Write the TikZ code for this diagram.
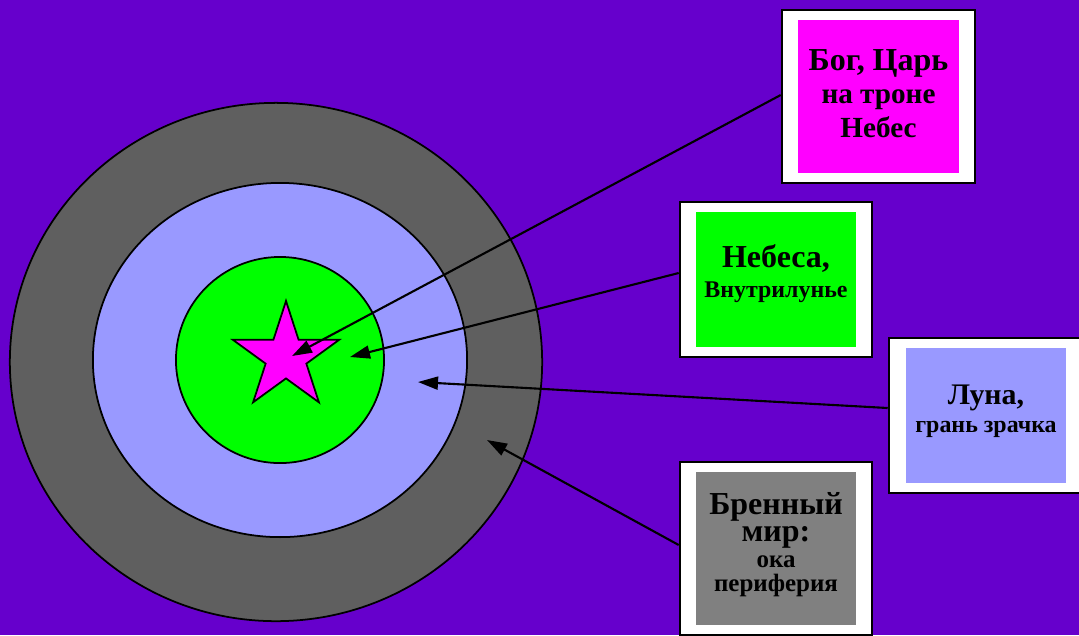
\documentclass[tikz,border=0pt]{standalone}
\usepackage{fontspec}
\setmainfont{Liberation Serif}
\usetikzlibrary{shapes.geometric,arrows.meta}

\definecolor{sfondo}{HTML}{6600CC}
\definecolor{anello}{HTML}{5F5F5F}
\definecolor{lunare}{HTML}{9999FF}
\definecolor{verde}{HTML}{00FF00}
\definecolor{fucsia}{HTML}{FF00FF}
\definecolor{grigio}{HTML}{808080}

\newcommand{\grande}[1]{{\fontsize{9.1}{9.6}\selectfont #1}}

\begin{document}
\begin{tikzpicture}[
        x=0.01cm, y=-0.01cm,
        cornice/.style={
            draw=black,
            fill=white,
            line width=0.7pt,
            inner sep=0pt,
            minimum width=1.93cm
        },
        riquadro/.style={
            inner sep=0pt,
            minimum width=1.6cm
        },
        testo/.style={
            inner sep=0pt,
            align=center
        },
        freccia/.style={
            line width=0.6pt,
            -{Triangle[length=2mm,width=1.3mm]}
        }
    ]
        % Sfondo viola, tagliato ai bordi dell'immagine
        \fill[sfondo] (0,0) rectangle (1079,635);
        \useasboundingbox (0,0) rectangle (1079,635);
        \clip (0,0) rectangle (1079,635);

        % Cerchi concentrici: mondo, luna, cielo
        \draw[fill=anello, line width=0.5pt] (276,362) ellipse [x radius=2.66cm, y radius=2.59cm];
        \draw[fill=lunare, line width=0.5pt] (280,360) ellipse [x radius=1.87cm, y radius=1.77cm];
        \draw[fill=verde, line width=0.5pt] (280,360) ellipse [x radius=1.04cm, y radius=1.03cm];
        \node[star, star points=5, star point ratio=2.618, minimum size=1.12cm,
              inner sep=0pt, draw=black, line width=0.5pt, fill=fucsia] (stella) at (286,357) {};

        % Riquadri a destra: cornice bianca, fondo colorato, testo
        \node[cornice, minimum height=1.73cm] (b1) at (878.5,96.5) {};
        \node[riquadro, fill=fucsia, minimum height=1.53cm] (t1) at (b1) {};
        \node[testo, font=\bfseries\fontsize{8.3}{9.5}\selectfont] (s1) at ([yshift=0.03cm]t1)
            {\grande{Бог, Царь}\\ на троне\\ Небес};

        \node[cornice, minimum width=1.92cm, minimum height=1.55cm] (b2) at (776,279.5) {};
        \node[riquadro, fill=verde, minimum height=1.35cm] (t2) at (b2) {};
        \node[testo, font=\bfseries\fontsize{6.8}{8.5}\selectfont] (s2) at ([yshift=0.06cm]t2)
            {\grande{Небеса,}\\ Внутрилунье};

        \node[cornice, minimum width=1.94cm, minimum height=1.55cm] (b3) at (986,415.5) {};
        \node[riquadro, fill=lunare, minimum height=1.35cm] (t3) at (b3) {};
        \node[testo, font=\bfseries\fontsize{6.8}{8}\selectfont] (s3) at ([yshift=0.04cm]t3)
            {{\fontsize{8.5}{9}\selectfont Луна,}\\ грань зрачка};

        \node[cornice, minimum width=1.92cm, minimum height=1.73cm] (b4) at (776,548.5) {};
        \node[riquadro, fill=grigio, minimum height=1.53cm] (t4) at (b4) {};
        \node[testo, font=\bfseries\fontsize{7.1}{7.4}\selectfont] (s4) at ([yshift=0.04cm]t4)
            {\grande{Бренный}\\[0.3pt] \grande{мир:}\\ ока\\[-0.6pt] периферия};

        % Punte delle frecce
        \coordinate (p1) at (292,356);
        \coordinate (p2) at (350,357);
        \coordinate (p3) at (418,382);
        \coordinate (p4) at (487,440);

        \draw[freccia] ([yshift=0.015cm]b1.west) -- (p1);
        \draw[freccia] ([yshift=0.065cm]b2.west) -- (p2);
        \draw[freccia] ([yshift=0.075cm]b3.west) -- (p3);
        \draw[freccia] ([yshift=0.035cm]b4.west) -- (p4);
    \end{tikzpicture}
\end{document}
